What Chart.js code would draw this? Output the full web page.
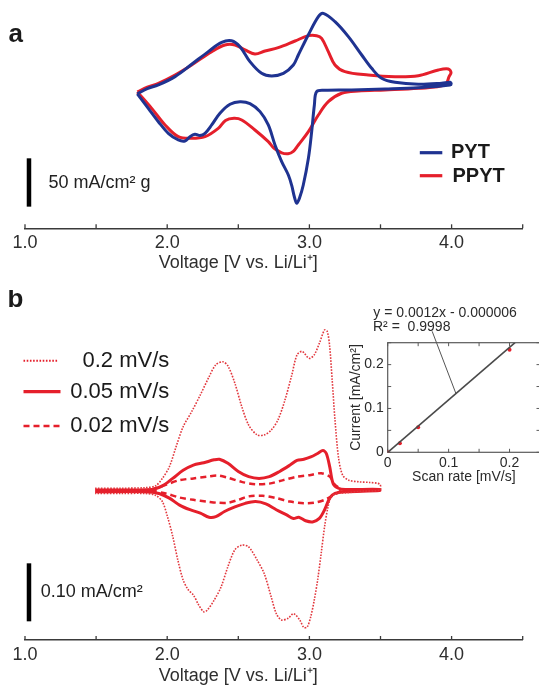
<!DOCTYPE html>
<html>
<head>
<meta charset="utf-8">
<script src="https://cdn.jsdelivr.net/npm/chart.js@4.4.0/dist/chart.umd.min.js"></script>
<style>
  html, body { margin: 0; padding: 0; background: #fff; overflow: hidden; }
  #wrap { position: relative; width: 539px; height: 687px; overflow: hidden; }
  canvas { position: absolute; }
  #cvA { left: 0; top: 0; width: 539px; height: 290px; }
  #cvB { left: 0; top: 290px; width: 539px; height: 397px; }
  #cvIn { left: 330px; top: 300px; width: 215px; height: 190px; }
</style>
</head>
<body>
<div id="wrap">
  <canvas id="cvA" width="539" height="290"></canvas>
  <canvas id="cvB" width="539" height="397"></canvas>
  <canvas id="cvIn" width="215" height="190"></canvas>
</div>
<script>
// ===============================
// Datos
// ===============================

// panel a: CV de PYT y PPYT (V vs Li/Li+, mA/cm2 g)
const pytVoltage = [1.79, 1.86, 1.938, 2.055, 2.172, 2.289, 2.383, 2.453, 2.512, 2.582, 2.664, 2.735, 2.817, 2.887, 2.922, 2.992, 3.063, 3.098, 3.180, 3.274, 3.368, 3.438, 3.508, 3.602, 3.766, 3.930, 3.989, 3.997, 3.989, 3.766, 3.532, 3.297, 3.110, 3.051, 3.035, 3.016, 2.993, 2.957, 2.930, 2.911, 2.895, 2.876, 2.852, 2.805, 2.758, 2.711, 2.653, 2.582, 2.512, 2.442, 2.371, 2.313, 2.266, 2.231, 2.195, 2.160, 2.125, 2.078, 2.008, 1.938, 1.867, 1.79];
const pytCurrent = [-4, 1.5, 5.2, 13.8, 26.6, 39.7, 49.3, 51.0, 44.8, 29.3, 17.2, 14.5, 17.2, 25.9, 36.2, 56.9, 75.9, 79.3, 70.7, 55.2, 36.2, 22.4, 12.1, 7.9, 5.9, 6.9, 7.9, 6.5, 5.2, 2.4, 1.0, 0, -0.3, -1.7, -15.5, -43.1, -70.7, -98.3, -112, -117.2, -111, -99, -88, -74.1, -56.9, -36.2, -22.4, -14.1, -12.1, -14.8, -24.1, -36.2, -44.8, -47.2, -45.9, -48.3, -52.8, -51.7, -44.8, -32.8, -19.0, -4];

const ppytVoltage = [1.79, 1.86, 1.938, 2.055, 2.172, 2.313, 2.406, 2.477, 2.547, 2.617, 2.688, 2.781, 2.899, 2.993, 3.051, 3.086, 3.133, 3.180, 3.250, 3.414, 3.602, 3.766, 3.907, 3.977, 3.996, 3.982, 3.954, 3.766, 3.532, 3.344, 3.227, 3.133, 3.063, 2.993, 2.922, 2.887, 2.850, 2.805, 2.750, 2.711, 2.617, 2.524, 2.470, 2.410, 2.359, 2.266, 2.172, 2.078, 1.985, 1.891, 1.79];
const ppytCurrent = [-2, 3, 6.9, 15.5, 25.9, 39.7, 46.6, 46.6, 41.4, 37.2, 40.3, 43.8, 50.7, 56.2, 56.2, 53.4, 39.7, 25.9, 19.0, 15.5, 13.8, 14.8, 20.7, 21.7, 18, 13.8, 5.2, 1.7, 0, -1.0, -3.4, -12.1, -25.9, -43.1, -56.9, -63.5, -66, -65, -60, -53.4, -41.4, -31.0, -29.3, -31.5, -39.7, -48.3, -50.0, -48.3, -36.2, -19.0, -2];

// panel b: PPYT a distintas velocidades (V, mA/cm2)
const v02 = [1.493, 1.675, 1.845, 1.917, 1.966, 2.015, 2.063, 2.112, 2.172, 2.233, 2.294, 2.342, 2.391, 2.427, 2.476, 2.524, 2.573, 2.633, 2.682, 2.731, 2.779, 2.828, 2.876, 2.913, 2.949, 2.998, 3.034, 3.070, 3.107, 3.126, 3.143, 3.160, 3.180, 3.204, 3.233, 3.277, 3.350, 3.422, 3.495,
             3.495, 3.374, 3.252, 3.192, 3.155, 3.131, 3.107, 3.083, 3.058, 3.034, 3.010, 2.985, 2.961, 2.932, 2.888, 2.852, 2.803, 2.767, 2.731, 2.682, 2.633, 2.573, 2.524, 2.476, 2.427, 2.379, 2.330, 2.282, 2.257, 2.221, 2.184, 2.148, 2.112, 2.075, 2.039, 2.002, 1.966, 1.917, 1.845, 1.675, 1.493];
const i02 = [0.003, 0.003, 0.004, 0.007, 0.020, 0.040, 0.075, 0.109, 0.135, 0.164, 0.195, 0.216, 0.221, 0.214, 0.184, 0.144, 0.112, 0.095, 0.095, 0.103, 0.121, 0.155, 0.198, 0.233, 0.239, 0.227, 0.233, 0.253, 0.276, 0.273, 0.247, 0.190, 0.121, 0.057, 0.026, 0.017, 0.014, 0.013, 0.010,
             0, -0.002, -0.005, -0.006, -0.011, -0.029, -0.063, -0.109, -0.155, -0.190, -0.218, -0.236, -0.237, -0.224, -0.213, -0.221, -0.224, -0.213, -0.184, -0.144, -0.121, -0.098, -0.095, -0.103, -0.132, -0.167, -0.190, -0.207, -0.210, -0.198, -0.181, -0.172, -0.155, -0.121, -0.080, -0.046, -0.020, -0.009, -0.006, -0.006, -0.006];

const v005 = [1.493, 1.893, 1.966, 2.039, 2.112, 2.184, 2.257, 2.330, 2.367, 2.427, 2.500, 2.573, 2.646, 2.718, 2.791, 2.864, 2.913, 2.961, 3.010, 3.058, 3.095, 3.119, 3.143, 3.167, 3.204, 3.252, 3.495,
              3.495, 3.252, 3.180, 3.143, 3.107, 3.070, 3.022, 2.973, 2.925, 2.888, 2.840, 2.767, 2.694, 2.621, 2.549, 2.476, 2.403, 2.342, 2.294, 2.233, 2.160, 2.087, 2.015, 1.942, 1.845, 1.493];
const i005 = [0, 0.001, 0.007, 0.020, 0.034, 0.043, 0.047, 0.052, 0.053, 0.046, 0.032, 0.023, 0.020, 0.023, 0.032, 0.043, 0.051, 0.053, 0.057, 0.063, 0.068, 0.063, 0.040, 0.011, 0.003, 0.001, 0.001,
              -0.001, -0.003, -0.006, -0.014, -0.034, -0.049, -0.055, -0.053, -0.047, -0.049, -0.043, -0.034, -0.024, -0.020, -0.023, -0.029, -0.037, -0.046, -0.047, -0.040, -0.034, -0.026, -0.014, -0.006, -0.003, -0.003];

const v002 = [1.893, 1.990, 2.087, 2.184, 2.282, 2.354, 2.427, 2.524, 2.621, 2.718, 2.816, 2.913, 3.010, 3.083, 3.143, 3.180, 3.216,
              3.216, 3.167, 3.107, 3.034, 2.961, 2.864, 2.767, 2.670, 2.573, 2.500, 2.427, 2.354, 2.282, 2.184, 2.087, 1.990, 1.893];
const i002 = [0.001, 0.009, 0.017, 0.020, 0.023, 0.025, 0.021, 0.014, 0.010, 0.011, 0.017, 0.023, 0.026, 0.029, 0.023, 0.009, 0.002,
              -0.002, -0.009, -0.017, -0.022, -0.023, -0.020, -0.014, -0.010, -0.011, -0.017, -0.022, -0.022, -0.020, -0.017, -0.013, -0.006, -0.001];

// inset: corriente de pico vs velocidad de barrido
const scanRates = [0, 0.02, 0.05, 0.2];
const peakCurrents = [0, 0.0206, 0.057, 0.234];
const fitScanRate = [0, 0.209];
const fitCurrent = [0, 0.25];
const leaderScanRate = [0.073, 0.112];
const leaderCurrent = [0.276, 0.134];

// etiquetas de ejes
const voltageTickLabels = [1, 2, 3, 4];
const insetTickLabels = [0, 0.1, 0.2];
const scaleBarA = { v: 1.028, top: -70.7, len: 50, text: '50 mA/cm\u00b2 g' };
const scaleBarB = { v: 1.028, top: -0.1264, len: 0.10, text: '0.10 mA/cm\u00b2' };

// ===============================
// Estilo
// ===============================
const FONT = "'Liberation Sans', Arial, Helvetica, sans-serif";
const INK = '#2e2e2e';
const BLUE = '#1f3391';
const RED = '#e51f2b';
Chart.defaults.font.family = FONT;
Chart.defaults.color = INK;

function xy(xs, ys) {
    return xs.map((x, i) => ({ x: x, y: ys[i] }));
}

function voltageAxis(axisHeight, labelPad) {
    return {
        type: 'linear', min: 1, max: 4.5,
        border: { display: true, color: '#3a3a3a', width: 1.5 },
        grid: { display: false, drawTicks: false },
        ticks: {
            stepSize: 0.5, autoSkip: false, maxRotation: 0, minRotation: 0,
            padding: labelPad, color: INK, font: { size: 18 },
            callback: (v) => voltageTickLabels.includes(v) ? v.toFixed(1) : ''
        },
        afterFit: (s) => { s.height = axisHeight; s.paddingLeft = 0; s.paddingRight = 0; }
    };
}

// marcas hacia arriba y título del eje de voltaje
function drawVoltageAxisExtras(ctx, x, titleY) {
    ctx.save();
    ctx.strokeStyle = '#3a3a3a';
    ctx.lineWidth = 1.3;
    x.ticks.forEach(t => {
        const px = x.getPixelForValue(t.value);
        ctx.beginPath();
        ctx.moveTo(px, x.top);
        ctx.lineTo(px, x.top - 4);
        ctx.stroke();
    });
    ctx.fillStyle = INK;
    ctx.font = `18px ${FONT}`;
    ctx.textAlign = 'center';
    ctx.textBaseline = 'middle';
    const cx = (x.getPixelForValue(1) + x.getPixelForValue(4)) / 2;
    ctx.fillText('Voltage [V vs. Li/Li\u207a]', cx, titleY);
    ctx.restore();
}

function drawScaleBar(ctx, x, y, bar, textX, textY) {
    ctx.save();
    const px = x.getPixelForValue(bar.v);
    ctx.strokeStyle = '#000';
    ctx.lineWidth = 4.5;
    ctx.beginPath();
    ctx.moveTo(px, y.getPixelForValue(bar.top));
    ctx.lineTo(px, y.getPixelForValue(bar.top - bar.len));
    ctx.stroke();
    ctx.fillStyle = '#222';
    ctx.font = `18px ${FONT}`;
    ctx.textAlign = 'left';
    ctx.textBaseline = 'middle';
    ctx.fillText(bar.text, textX, textY);
    ctx.restore();
}

function legendLine(ctx, x0, x1, yy, color, width, dash) {
    ctx.save();
    ctx.strokeStyle = color;
    ctx.lineWidth = width;
    ctx.setLineDash(dash);
    ctx.beginPath();
    ctx.moveTo(x0, yy);
    ctx.lineTo(x1, yy);
    ctx.stroke();
    ctx.restore();
}

// ===============================
// Panel a
// ===============================
const decorA = {
    id: 'decorA',
    afterDraw(chart) {
        const { ctx, scales: { x, y } } = chart;
        drawVoltageAxisExtras(ctx, x, 262.7);
        drawScaleBar(ctx, x, y, scaleBarA, 48.4, 182.7);

        legendLine(ctx, 419.8, 442.3, 152.7, BLUE, 3.2, []);
        legendLine(ctx, 419.8, 442.3, 175.7, RED, 3.2, []);
        ctx.save();
        ctx.fillStyle = '#1a1a1a';
        ctx.font = `bold 20px ${FONT}`;
        ctx.textBaseline = 'middle';
        ctx.fillText('PYT', 451, 152);
        ctx.fillText('PPYT', 452.5, 176);
        ctx.font = `bold 26px ${FONT}`;
        ctx.textBaseline = 'alphabetic';
        ctx.fillText('a', 8.6, 41.7);
        ctx.restore();
    }
};

new Chart(document.getElementById('cvA'), {
    type: 'line',
    data: {
        datasets: [
            { label: 'PYT', data: xy(pytVoltage, pytCurrent), borderColor: BLUE, borderWidth: 3, pointRadius: 0, tension: 0.35, fill: false },
            { label: 'PPYT', data: xy(ppytVoltage, ppytCurrent), borderColor: RED, borderWidth: 3, pointRadius: 0, tension: 0.35, fill: false }
        ]
    },
    options: {
        responsive: false,
        animation: false,
        layout: { padding: { left: 25, right: 16.3, top: 0, bottom: 0 } },
        plugins: { legend: { display: false }, tooltip: { enabled: false } },
        scales: {
            x: voltageAxis(61.7, 3.6),
            y: { display: false, min: -143.1, max: 93.1 }
        }
    },
    plugins: [decorA]
});

// ===============================
// Panel b
// ===============================
const decorB = {
    id: 'decorB',
    afterDraw(chart) {
        const { ctx, scales: { x, y } } = chart;
        drawVoltageAxisExtras(ctx, x, 386);
        drawScaleBar(ctx, x, y, scaleBarB, 40.8, 301.7);

        legendLine(ctx, 23.5, 58, 70.7, RED, 2, [1.6, 1.6]);
        legendLine(ctx, 23.5, 60.5, 101.7, RED, 3.2, []);
        legendLine(ctx, 23.5, 60.5, 136, RED, 2.6, [6, 4]);
        ctx.save();
        ctx.fillStyle = '#1a1a1a';
        ctx.font = `22px ${FONT}`;
        ctx.textAlign = 'right';
        ctx.textBaseline = 'middle';
        ctx.fillText('0.2 mV/s', 169.3, 70.5);
        ctx.fillText('0.05 mV/s', 169.3, 101.5);
        ctx.fillText('0.02 mV/s', 169.3, 135.8);
        ctx.textAlign = 'left';
        ctx.font = `bold 26px ${FONT}`;
        ctx.textBaseline = 'alphabetic';
        ctx.fillText('b', 7.6, 16.7);
        ctx.restore();
    }
};

new Chart(document.getElementById('cvB'), {
    type: 'line',
    data: {
        datasets: [
            { label: '0.2 mV/s', data: xy(v02, i02), borderColor: '#e2373d', borderWidth: 1.6, borderDash: [1.6, 1.4], pointRadius: 0, tension: 0.3, fill: false },
            { label: '0.05 mV/s', data: xy(v005, i005), borderColor: RED, borderWidth: 3, pointRadius: 0, tension: 0.3, fill: false },
            { label: '0.02 mV/s', data: xy(v002, i002), borderColor: RED, borderWidth: 2.5, borderDash: [6, 4], pointRadius: 0, tension: 0.3, fill: false }
        ]
    },
    options: {
        responsive: false,
        animation: false,
        layout: { padding: { left: 25, right: 16.3, top: 0, bottom: 0 } },
        plugins: { legend: { display: false }, tooltip: { enabled: false } },
        scales: {
            x: voltageAxis(47, 4),
            y: { display: false, min: -0.2586, max: 0.3448 }
        }
    },
    plugins: [decorB]
});

// ===============================
// Inset
// ===============================
const isLabelled = (v) => insetTickLabels.some(t => Math.abs(t - v) < 1e-6);

const insetFrame = {
    id: 'insetFrame',
    beforeDatasetsDraw(chart) {
        const { ctx, chartArea: a, scales: { x, y } } = chart;
        ctx.save();
        ctx.fillStyle = '#fff';
        ctx.fillRect(a.left, a.top, a.right - a.left, a.bottom - a.top);
        ctx.strokeStyle = '#5a5a5a';
        ctx.lineWidth = 1.2;
        ctx.strokeRect(a.left, a.top, a.right - a.left, a.bottom - a.top);
        ctx.lineWidth = 1;
        x.ticks.forEach(t => {
            const px = x.getPixelForValue(t.value);
            ctx.beginPath();
            ctx.moveTo(px, a.bottom); ctx.lineTo(px, a.bottom - 3.5);
            ctx.moveTo(px, a.top); ctx.lineTo(px, a.top + 3.5);
            ctx.stroke();
        });
        y.ticks.forEach(t => {
            const py = y.getPixelForValue(t.value);
            ctx.beginPath();
            ctx.moveTo(a.left, py); ctx.lineTo(a.left + 3.5, py);
            ctx.moveTo(a.right, py); ctx.lineTo(a.right - 3.5, py);
            ctx.stroke();
        });
        ctx.restore();
    },
    afterDraw(chart) {
        const { ctx } = chart;
        ctx.save();
        ctx.fillStyle = '#2a2a2a';
        ctx.font = `14px ${FONT}`;
        ctx.textBaseline = 'middle';
        ctx.fillText('y = 0.0012x - 0.000006', 43.3, 13.3);
        ctx.fillText('R\u00b2 =  0.9998', 43, 26.7);
        ctx.restore();
    }
};

new Chart(document.getElementById('cvIn'), {
    type: 'line',
    data: {
        datasets: [
            { label: 'fit', data: xy(fitScanRate, fitCurrent), borderColor: '#4a4a4a', borderWidth: 1.6, pointRadius: 0, fill: false },
            { label: 'leader', data: xy(leaderScanRate, leaderCurrent), borderColor: '#555', borderWidth: 1, pointRadius: 0, fill: false, clip: false },
            { label: 'peaks', data: xy(scanRates, peakCurrents), showLine: false, pointRadius: 2, pointBackgroundColor: RED, pointBorderWidth: 0 }
        ]
    },
    options: {
        responsive: false,
        animation: false,
        layout: { padding: { left: 0, right: 5, top: 42.7, bottom: 0 } },
        plugins: { legend: { display: false }, tooltip: { enabled: false } },
        scales: {
            x: {
                type: 'linear', min: 0, max: 0.25,
                border: { display: false },
                grid: { display: false, drawTicks: false },
                ticks: {
                    stepSize: 0.05, autoSkip: false, maxRotation: 0, padding: 2.6,
                    color: '#2a2a2a', font: { size: 14 },
                    callback: (v) => isLabelled(v) ? (v === 0 ? '0' : v.toFixed(1)) : ''
                },
                title: { display: true, text: 'Scan rate [mV/s]', color: '#2a2a2a', font: { size: 14 }, padding: { top: 0, bottom: 4.9 } },
                afterFit: (s) => { s.height = 37.7; s.paddingLeft = 0; s.paddingRight = 0; }
            },
            y: {
                type: 'linear', min: 0, max: 0.25,
                border: { display: false },
                grid: { display: false, drawTicks: false },
                ticks: {
                    stepSize: 0.05, autoSkip: false, padding: 4,
                    color: '#2a2a2a', font: { size: 14 },
                    callback: (v) => isLabelled(v) ? (v === 0 ? '0' : v.toFixed(1)) : ''
                },
                title: { display: true, text: 'Current [mA/cm\u00b2]', color: '#2a2a2a', font: { size: 14 }, padding: { top: 17.6, bottom: 0 } },
                afterFit: (s) => { s.width = 57.7; s.paddingTop = 0; s.paddingBottom = 0; }
            }
        }
    },
    plugins: [insetFrame]
});
</script>
</body>
</html>
